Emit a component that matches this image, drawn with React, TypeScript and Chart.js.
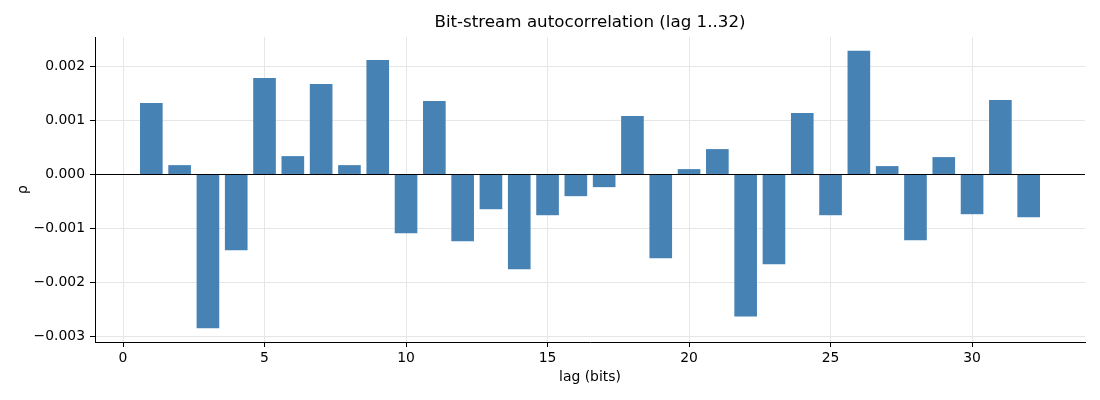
import { useEffect, useRef } from "react"
import { Chart, registerables } from "chart.js"

Chart.register(...registerables)

// lag values (bits) and their autocorrelation coefficients
const lags = [
  1, 2, 3, 4, 5, 6, 7, 8, 9, 10, 11, 12, 13, 14, 15, 16,
  17, 18, 19, 20, 21, 22, 23, 24, 25, 26, 27, 28, 29, 30, 31, 32,
]
const rho = [
  0.001324, 0.000173, -0.002847, -0.001405, 0.001788, 0.00034, 0.001677, 0.000173,
  0.002123, -0.001089, 0.001361, -0.001238, -0.000644, -0.001757, -0.000755, -0.000402,
  -0.000235, 0.001083, -0.001553, 0.000099, 0.00047, -0.00263, -0.001665, 0.001139,
  -0.000755, 0.00229, 0.000155, -0.001219, 0.000322, -0.000736, 0.00138, -0.000792,
]

const xTicks = [0, 5, 10, 15, 20, 25, 30]
const yTicks = [-0.003, -0.002, -0.001, 0, 0.001, 0.002]

const FONT = "'DejaVu Sans', sans-serif"

// black line at y = 0, drawn over the bars
const zeroLine = {
  id: "zeroLine",
  afterDatasetsDraw(chart: any) {
    const { ctx, chartArea, scales } = chart
    const y = Math.round(scales.y.getPixelForValue(0)) + 0.5
    ctx.save()
    ctx.strokeStyle = "#000"
    ctx.lineWidth = 1
    ctx.beginPath()
    ctx.moveTo(chartArea.left, y)
    ctx.lineTo(chartArea.right, y)
    ctx.stroke()
    ctx.restore()
  },
}

// title centred over the plot area rather than the whole canvas
const plotTitle = {
  id: "plotTitle",
  afterDraw(chart: any) {
    const { ctx, chartArea } = chart
    ctx.save()
    ctx.fillStyle = "#000"
    ctx.font = `16.7px ${FONT}`
    ctx.textAlign = "center"
    ctx.textBaseline = "middle"
    ctx.fillText("Bit-stream autocorrelation (lag 1..32)", (chartArea.left + chartArea.right) / 2, 23)
    ctx.restore()
  },
}

const fmt = (v: number) => (v === 0 ? "0.000" : v.toFixed(3).replace("-", "\u2212"))

export default function App() {
  const chartRef = useRef<HTMLCanvasElement>(null)
  const chartInstance = useRef<Chart | null>(null)

  useEffect(() => {
    if (!chartRef.current) return
    if (chartInstance.current) chartInstance.current.destroy()

    const ctx = chartRef.current.getContext("2d")
    if (!ctx) return

    chartInstance.current = new Chart(ctx, {
      type: "bar",
      data: {
        datasets: [
          {
            label: "rho",
            data: lags.map((l, i) => ({ x: l, y: rho[i] })),
            backgroundColor: "#4682b4",
            borderWidth: 0,
            barPercentage: 0.8,
            categoryPercentage: 1,
          },
        ],
      },
      options: {
        responsive: true,
        maintainAspectRatio: false,
        animation: false,
        layout: { padding: { top: 37, right: 15, bottom: 0, left: 0 } },
        font: { family: FONT },
        plugins: {
          legend: { display: false },
          tooltip: { enabled: false },
          title: { display: false },
        },
        scales: {
          x: {
            type: "linear",
            min: -0.99,
            max: 33.99,
            offset: false,
            afterBuildTicks: (scale: any) => {
              scale.ticks = xTicks.map((v) => ({ value: v }))
            },
            afterFit: (scale: any) => {
              scale.height = 58
            },
            grid: {
              offset: false,
              color: "#e6e6e6",
              tickColor: "#000",
              tickLength: 5,
            },
            border: { color: "#000", width: 1 },
            ticks: {
              color: "#000",
              padding: 3,
              font: { family: FONT, size: 13.9 },
              callback: (v: any) => String(v),
            },
            title: {
              display: true,
              text: "lag (bits)",
              color: "#000",
              font: { family: FONT, size: 13.9 },
              padding: { top: 0, bottom: 14.6 },
            },
          },
          y: {
            type: "linear",
            min: -0.003104,
            max: 0.002547,
            afterBuildTicks: (scale: any) => {
              scale.ticks = yTicks.map((v) => ({ value: v }))
            },
            afterFit: (scale: any) => {
              scale.width = 95
            },
            grid: {
              color: "#e6e6e6",
              tickColor: "#000",
              tickLength: 5,
            },
            border: { color: "#000", width: 1 },
            ticks: {
              color: "#000",
              padding: 5,
              font: { family: FONT, size: 13.9 },
              callback: (v: any) => fmt(Number(v)),
            },
            title: {
              display: true,
              text: "ρ",
              color: "#000",
              font: { family: FONT, size: 13.9 },
              padding: { top: 14.7, bottom: 0 },
            },
          },
        },
      },
      plugins: [zeroLine, plotTitle],
    } as any)

    return () => {
      if (chartInstance.current) {
        chartInstance.current.destroy()
        chartInstance.current = null
      }
    }
  }, [])

  return (
    <div style={{ position: "absolute", left: 0, top: 0, width: 1100, height: 400, background: "#fff" }}>
      <canvas ref={chartRef} />
    </div>
  )
}
